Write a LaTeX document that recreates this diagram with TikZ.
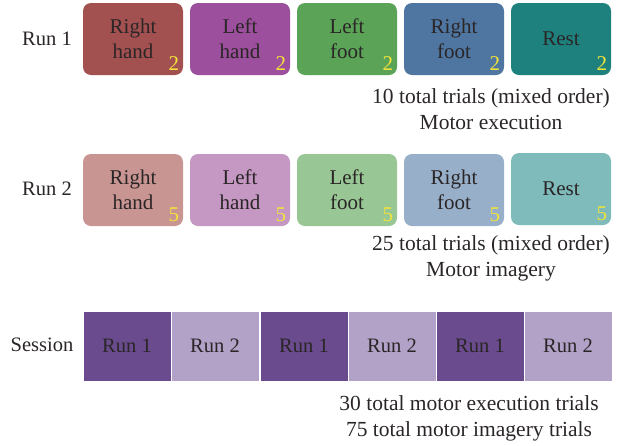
\documentclass[tikz,border=0pt]{standalone}
\usepackage{fontspec}
\setmainfont{Liberation Serif}
\usetikzlibrary{calc}
\definecolor{txt}{HTML}{2A2526}
\definecolor{numc}{HTML}{F2E33A}
\definecolor{cRHa}{HTML}{A35050}
\definecolor{cLHa}{HTML}{9C4F9C}
\definecolor{cLFa}{HTML}{5BA356}
\definecolor{cRFa}{HTML}{4E76A0}
\definecolor{cRSa}{HTML}{1E817E}
\definecolor{cRHb}{HTML}{C99593}
\definecolor{cLHb}{HTML}{C597C3}
\definecolor{cLFb}{HTML}{98C795}
\definecolor{cRFb}{HTML}{97AFC8}
\definecolor{cRSb}{HTML}{7FBBBB}
\definecolor{sessA}{HTML}{6A4C8E}
\definecolor{sessB}{HTML}{B2A2C8}
\begin{document}
\begin{tikzpicture}[x=1pt,y=-1pt,
  lbl/.style={text=txt, inner sep=0pt, font=\fontsize{20.5}{25}\selectfont},
  trial/.style={rounded corners=8pt, minimum width=100pt, minimum height=72pt, align=center, text=txt, inner sep=0pt, font=\fontsize{21}{25}\selectfont},
  num/.style={text=numc, inner sep=0pt, anchor=base east, font=\fontsize{21}{25}\selectfont},
  runbox/.style={draw=white, line width=1pt, minimum width=88pt, minimum height=70pt, text=txt, inner sep=0pt, font=\fontsize{20.5}{25}\selectfont},
  captxt/.style={text=txt, inner sep=0pt, align=center, font=\fontsize{21.5}{26}\selectfont}
]
\useasboundingbox (0,0) rectangle (621,445);
% Row 1
\node[lbl] (r1) at (47,39) {Run 1};
\node[trial, fill=cRHa] (a1) at (133,39) {Right\\hand};
\node[trial, fill=cLHa] (a2) at (240,39) {Left\\hand};
\node[trial, fill=cLFa] (a3) at (347,39) {Left\\foot};
\node[trial, fill=cRFa] (a4) at (454,39) {Right\\foot};
\node[trial, fill=cRSa] (a5) at (561,39) {Rest};
\foreach \n in {a1,a2,a3,a4,a5}
  \node[num] (\n n) at ($(\n.south east)+(-4,-5)$) {2};
\node[captxt] (c1) at (491,109) {10 total trials (mixed order)\\Motor execution};
% Row 2
\node[lbl] (r2) at (47,189) {Run 2};
\node[trial, fill=cRHb] (b1) at (133,190) {Right\\hand};
\node[trial, fill=cLHb] (b2) at (240,190) {Left\\hand};
\node[trial, fill=cLFb] (b3) at (347,190) {Left\\foot};
\node[trial, fill=cRFb] (b4) at (454,190) {Right\\foot};
\node[trial, fill=cRSb] (b5) at (561,189) {Rest};
\foreach \n in {b1,b2,b3,b4,b5}
  \node[num] (\n n) at ($(\n.south east)+(-4,-5)$) {5};
\node[captxt] (c2) at (491,258) {25 total trials (mixed order)\\Motor imagery};
% Session
\node[lbl] (ss) at (42,345) {Session};
\node[runbox, fill=sessA] (s1) at (127,346) {Run 1};
\node[runbox, fill=sessB] (s2) at (215,346) {Run 2};
\node[runbox, fill=sessA] (s3) at (304,346) {Run 1};
\node[runbox, fill=sessB] (s4) at (392,346) {Run 2};
\node[runbox, fill=sessA] (s5) at (480,346) {Run 1};
\node[runbox, fill=sessB] (s6) at (568,346) {Run 2};
\node[captxt] (c3) at (469,418) {30 total motor execution trials\\75 total motor imagery trials};
\end{tikzpicture}
\end{document}
